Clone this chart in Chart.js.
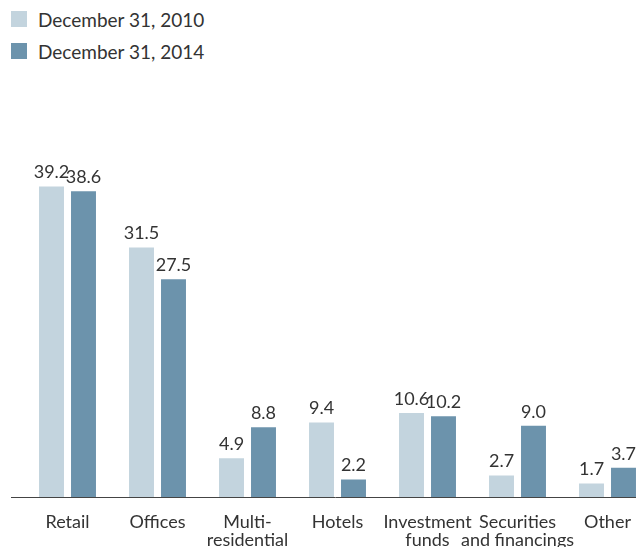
<!DOCTYPE html>
<html>
<head>
<meta charset="utf-8">
<script src="https://cdn.jsdelivr.net/npm/chart.js@4"></script>
<style>
  html, body { margin: 0; padding: 0; background: #fff; }
  body { width: 636px; height: 547px; overflow: hidden; position: relative; font-family: Lato, sans-serif; }
  #legend { position: absolute; left: 11px; top: 11px; }
  .item { display: flex; align-items: center; height: 16px; margin-bottom: 16px; font-size: 19px; color: #333; }
  .swatch { width: 16px; height: 16px; margin-right: 11px; }
  #wrap { position: absolute; left: 0; top: 0; width: 660px; height: 557px; }
</style>
</head>
<body>
<div id="legend"></div>
<div id="wrap"><canvas id="myChart"></canvas></div>
<script>
// categories (multi-line labels)
const categories = [
  ['Retail'],
  ['Offices'],
  ['Multi-', 'residential'],
  ['Hotels'],
  ['Investment', 'funds'],
  ['Securities', 'and financings'],
  ['Other']
];
const seriesNames = ['December 31, 2010', 'December 31, 2014'];
const values2010 = [39.2, 31.5, 4.9, 9.4, 10.6, 2.7, 1.7];
const values2014 = [38.6, 27.5, 8.8, 2.2, 10.2, 9.0, 3.7];
const colors = ['#c3d4de', '#6c93ac'];

const textColor = '#333333';
const fontFamily = 'Lato, sans-serif';

// html legend, stacked like the original
const legend = document.getElementById('legend');
seriesNames.forEach((name, i) => {
  const item = document.createElement('div');
  item.className = 'item';
  const sw = document.createElement('div');
  sw.className = 'swatch';
  sw.style.background = colors[i];
  const txt = document.createElement('span');
  txt.textContent = name;
  item.appendChild(sw);
  item.appendChild(txt);
  legend.appendChild(item);
});

// value labels above each bar
const valueLabels = {
  id: 'valueLabels',
  afterDatasetsDraw(chart) {
    const ctx = chart.ctx;
    ctx.save();
    ctx.fillStyle = textColor;
    ctx.font = '18px ' + fontFamily;
    ctx.textAlign = 'center';
    ctx.textBaseline = 'bottom';
    chart.data.datasets.forEach((ds, i) => {
      chart.getDatasetMeta(i).data.forEach((bar, j) => {
        ctx.fillText(ds.data[j].toFixed(1), bar.x, bar.y - 5);
      });
    });
    ctx.restore();
  }
};

// baseline runs from the left margin to the edge
const baseLine = {
  id: 'baseLine',
  afterDatasetsDraw(chart) {
    const ctx = chart.ctx;
    const y = Math.round(chart.scales.y.getPixelForValue(0)) + 0.5;
    ctx.save();
    ctx.strokeStyle = '#444';
    ctx.lineWidth = 1;
    ctx.beginPath();
    ctx.moveTo(11, y);
    ctx.lineTo(chart.width, y);
    ctx.stroke();
    ctx.restore();
  }
};

const ctx = document.getElementById('myChart').getContext('2d');
const myChart = new Chart(ctx, {
  type: 'bar',
  data: {
    labels: categories,
    datasets: [{
      label: seriesNames[0],
      data: values2010,
      backgroundColor: colors[0],
      borderWidth: 0
    }, {
      label: seriesNames[1],
      data: values2014,
      backgroundColor: colors[1],
      borderWidth: 0
    }]
  },
  options: {
    responsive: true,
    maintainAspectRatio: false,
    animation: false,
    categoryPercentage: 0.711,
    barPercentage: 0.78,
    layout: {
      padding: { top: 101, left: 22.5, right: 7.5, bottom: 0 }
    },
    plugins: {
      legend: { display: false },
      tooltip: { enabled: false }
    },
    scales: {
      x: {
        grid: { display: false },
        border: { display: false },
        ticks: {
          color: textColor,
          padding: 8,
          maxRotation: 0,
          minRotation: 0,
          autoSkip: false,
          font: { family: fontFamily, size: 18, lineHeight: '18px' }
        }
      },
      y: {
        display: false,
        min: 0,
        max: 50
      }
    }
  },
  plugins: [valueLabels, baseLine]
});
</script>
</body>
</html>
